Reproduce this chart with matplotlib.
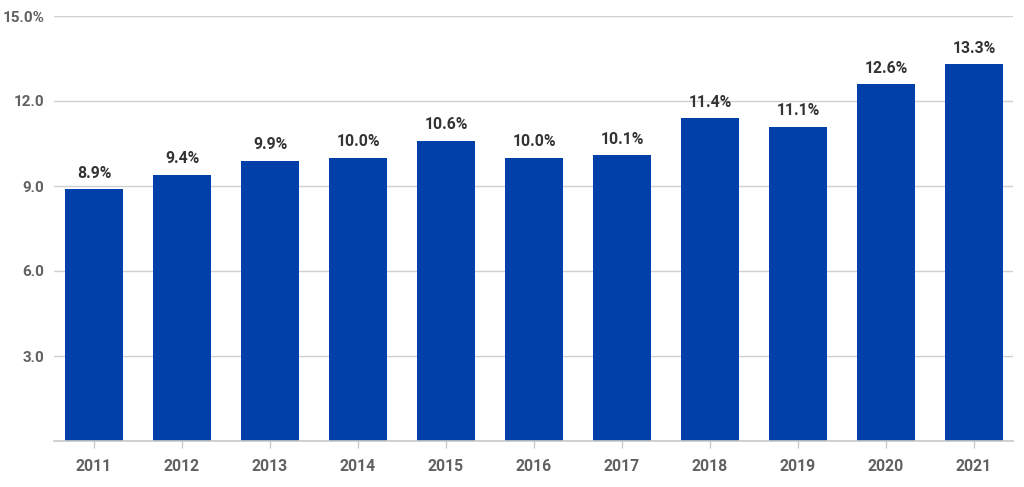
import matplotlib
matplotlib.use("Agg")
import matplotlib.pyplot as plt

years = ["2011", "2012", "2013", "2014", "2015", "2016", "2017", "2018", "2019", "2020", "2021"]
values = [8.9, 9.4, 9.9, 10.0, 10.6, 10.0, 10.1, 11.4, 11.1, 12.6, 13.3]
yticks = [3, 6, 9, 12, 15]
ytick_labels = ["3.0", "6.0", "9.0", "12.0", "15.0%"]

plt.rcParams['font.family'] = ['Roboto', 'DejaVu Sans']

fig = plt.figure(figsize=(10.24, 4.87), dpi=100)
ax = fig.add_axes([54/1024, 1 - 441/487, (1013-54)/1024, (441-16)/487])

x = list(range(len(years)))
bars = ax.bar(x, values, width=0.66, color="#0040A8", zorder=3)

for xi, v in zip(x, values):
    ax.annotate(f"{v:.1f}%", (xi, v), xytext=(0, 6), textcoords="offset points",
                ha="center", va="bottom", fontsize=11.3, fontweight="bold", color="#333333")

ax.set_xlim(-0.455, 10.443)
ax.set_ylim(0, 15)
ax.set_yticks(yticks)
ax.set_yticklabels(ytick_labels)
ax.set_xticks(x)
ax.set_xticklabels(years)

ax.grid(axis="y", color="#d0d0d0", linewidth=1, zorder=0)
for s in ["top", "right", "left"]:
    ax.spines[s].set_visible(False)
ax.spines["bottom"].set_color("#c8c8c8")
ax.spines["bottom"].set_linewidth(1.2)
ax.spines["bottom"].set_zorder(4)

ax.tick_params(axis="y", length=0, pad=7, labelsize=11, labelcolor="#616161")
ax.tick_params(axis="x", length=5, width=1, color="#c8c8c8", pad=8, labelsize=11.3, labelcolor="#616161")
for lab in ax.get_xticklabels() + ax.get_yticklabels():
    lab.set_fontweight("bold")

fig.savefig("out.png", dpi=100)
